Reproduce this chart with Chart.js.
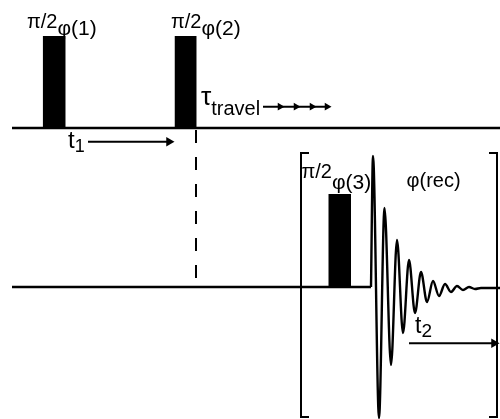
<!DOCTYPE html>
<html>
<head>
<meta charset="utf-8">
<script src="https://cdn.jsdelivr.net/npm/chart.js@4.4.0/dist/chart.umd.min.js"></script>
<style>
  body { margin: 0; background: #fff; }
  canvas { display: block; }
</style>
</head>
<body>
<canvas id="seqChart" width="500" height="419"></canvas>
<script>
// coordinates (x: time axis, y: drawing units, top = 0)
const channelBase = [128, 287];
const channelStart = [12, 12];
const channelEnd = [500, 371];

const pulseStart = [42.7, 174.5, 328.3];
const pulseEnd = [65.7, 196.7, 351];
const pulseTop = [36, 36, 194];
const pulseChannel = [0, 0, 1];
const pulsePhase = ['φ(1)', 'φ(2)', 'φ(3)'];

const fidX = [371, 373, 379, 384.5, 391, 397, 403, 409, 415, 421, 427, 433, 439, 445, 451, 457, 463, 469, 475, 481, 500];
const fidY = [287, 156, 418, 208, 365, 240, 333, 260, 313, 272, 302, 281, 296, 284, 292, 286, 290, 287, 289, 288, 288];

const dashX = 196;
const dashY = [130, 279];

const bracketLeft = 301;
const bracketRight = 497;
const bracketY = [153, 417];
const bracketSerif = 8;

const t1Arrow = [[88, 141.7], [169, 141.7]];
const t2Arrow = [[409, 343.3], [494, 343.3]];
const travelArrow = [263, 280, 296, 312, 327];
const travelY = 106.7;

const black = '#000';
const datasets = [];

channelBase.forEach((y, i) => {
  datasets.push({
    data: [{x: channelStart[i], y: y}, {x: channelEnd[i], y: y}],
    borderColor: black, borderWidth: 2.5, pointRadius: 0
  });
});

pulseStart.forEach((x0, i) => {
  datasets.push({
    data: [{x: x0, y: pulseTop[i]}, {x: pulseEnd[i], y: pulseTop[i]}],
    borderWidth: 0, borderColor: 'rgba(0,0,0,0)', pointRadius: 0,
    backgroundColor: black,
    fill: {value: channelBase[pulseChannel[i]]}
  });
});

datasets.push({
  data: fidX.map((x, i) => ({x: x, y: fidY[i]})),
  borderColor: black, borderWidth: 2.4, pointRadius: 0,
  cubicInterpolationMode: 'monotone'
});

datasets.push({
  data: [{x: dashX, y: dashY[0]}, {x: dashX, y: dashY[1]}],
  borderColor: black, borderWidth: 2, pointRadius: 0, borderDash: [13, 14]
});

[[bracketLeft, bracketSerif], [bracketRight, -bracketSerif]].forEach(([bx, s]) => {
  datasets.push({
    data: [
      {x: bx + s, y: bracketY[0]}, {x: bx, y: bracketY[0]},
      {x: bx, y: bracketY[1]}, {x: bx + s, y: bracketY[1]}
    ],
    borderColor: black, borderWidth: 2, pointRadius: 0,
    borderJoinStyle: 'miter'
  });
});

[t1Arrow, t2Arrow].forEach(a => {
  datasets.push({
    data: a.map(p => ({x: p[0], y: p[1]})),
    borderColor: black, borderWidth: 2,
    pointStyle: 'triangle', rotation: 90,
    pointRadius: [0, 5.5], pointBackgroundColor: black, pointBorderWidth: 0
  });
});

datasets.push({
  data: travelArrow.map(x => ({x: x, y: travelY})),
  borderColor: black, borderWidth: 2,
  pointStyle: 'triangle', rotation: 90,
  pointRadius: travelArrow.map((x, i) => i === 0 ? 0 : 4.5),
  pointBackgroundColor: black, pointBorderWidth: 0
});

// text labels: [main, sub, x, baseline, mainSize, subSize, subDrop]
const labels = [
  ['π/2', pulsePhase[0], 27, 28, 20, 21, 7],
  ['π/2', pulsePhase[1], 171, 28, 20, 21, 7],
  ['π/2', pulsePhase[2], 301.5, 178, 20, 21, 11],
  ['φ(rec)', '', 406.5, 187, 20, 20, 0],
  ['τ', 'travel', 201, 105, 26, 20, 10],
  ['t', '1', 68, 148, 24, 18, 4],
  ['t', '2', 415, 333, 23, 19, 4]
];

const textPlugin = {
  id: 'seqText',
  afterDatasetsDraw(chart) {
    const ctx = chart.ctx;
    const xs = chart.scales.x, ys = chart.scales.y;
    ctx.save();
    ctx.fillStyle = black;
    ctx.textBaseline = 'alphabetic';
    ctx.textAlign = 'left';
    labels.forEach(([main, sub, x, y, ms, ss, drop]) => {
      const px = xs.getPixelForValue(x), py = ys.getPixelForValue(y);
      ctx.font = ms + 'px "Liberation Sans"';
      ctx.fillText(main, px, py);
      const w = ctx.measureText(main).width;
      if (sub) {
        ctx.font = ss + 'px "Liberation Sans"';
        ctx.fillText(sub, px + w, py + drop);
      }
    });
    ctx.restore();
  }
};

new Chart(document.getElementById('seqChart'), {
  type: 'scatter',
  data: {datasets: datasets.map(d => Object.assign({type: 'line', showLine: true}, d))},
  options: {
    responsive: false,
    animation: false,
    layout: {padding: 0, autoPadding: false},
    plugins: {legend: {display: false}, tooltip: {enabled: false}},
    scales: {
      x: {type: 'linear', min: 0, max: 500, display: false},
      y: {type: 'linear', min: 0, max: 419, reverse: true, display: false}
    }
  },
  plugins: [textPlugin]
});
</script>
</body>
</html>
